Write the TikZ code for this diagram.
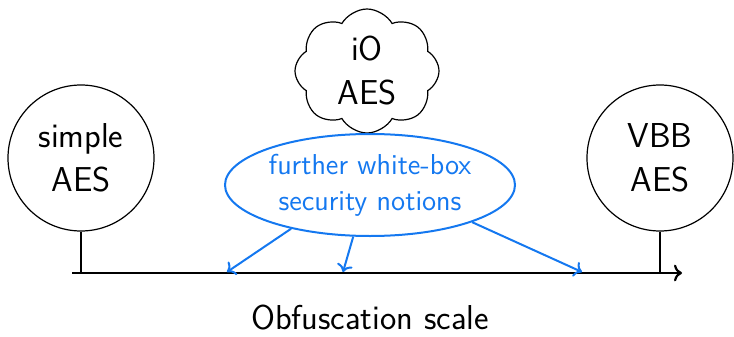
\documentclass[tikz,border=0pt]{standalone}
\usepackage{xcolor}
\usetikzlibrary{shapes.geometric, shapes.symbols}
\usetikzlibrary{arrows, arrows.meta}
\definecolor{notionblue}{RGB}{20,120,240}

\begin{document}
\begin{tikzpicture}[x=0.5pt, y=-0.5pt, font=\sffamily\LARGE,
    aesnode/.style={circle, draw, semithick, minimum size=73pt, inner sep=0pt, align=center},
    notion/.style={ellipse, draw=notionblue, line width=1pt, fill=white, text=notionblue,
      font=\sffamily\Large, minimum width=145pt, minimum height=51pt, inner sep=0pt, align=center},
    notionarrow/.style={notionblue, line width=1pt, ->}]
        \useasboundingbox (0,0) rectangle (734,337);
        \node [cloud, draw, semithick, cloud puffs=8, cloud puff arc=120, aspect=1,
          minimum width=72pt, minimum height=62pt, inner sep=0pt, align=center] (io) at (367,71) {iO\\AES};
        \node [aesnode] (simple) at (81,158) {simple\\AES};
        \node [aesnode] (vbb) at (660,158) {VBB\\AES};
        \node [notion] (further) at (370,185) {further white-box\\security notions};
        \coordinate (start) at (72,273);
        \coordinate (end) at (682,273);
        \draw [line width=1.1pt, ->] (start) -- (end);
        \draw [semithick] (simple.south) -- (simple.south |- start);
        \draw [semithick] (vbb.south) -- (vbb.south |- start);
      \coordinate (n1) at (227,272);
      \coordinate (n2) at (343,272);
      \coordinate (n3) at (582,272);
      \draw [notionarrow] (further.209) -- (n1);
      \draw [notionarrow] (further.252) -- (n2);
      \draw [notionarrow] (further.340) -- (n3);
      \node [inner sep=0pt] (scale) at (370,318) {Obfuscation scale};
    \end{tikzpicture}
\end{document}
